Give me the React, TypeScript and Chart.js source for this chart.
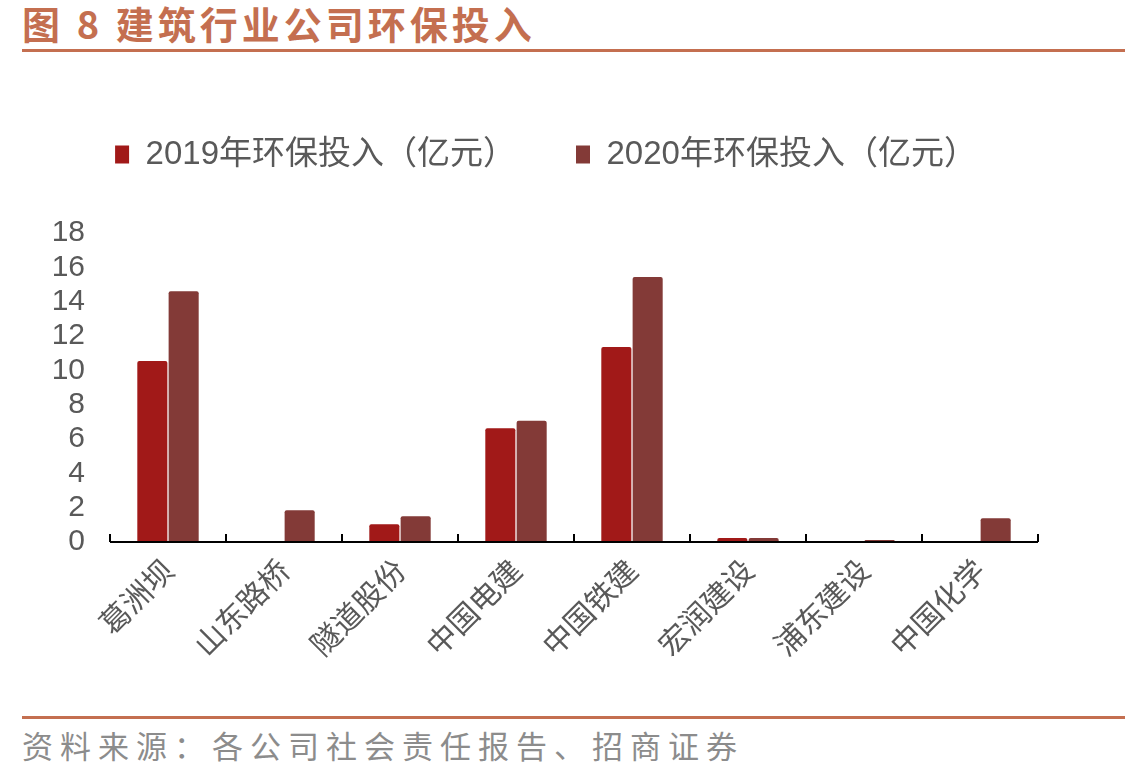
import { useEffect, useRef } from "react";
import { Chart, registerables } from "chart.js";

Chart.register(...registerables);

// Chart data
const companies = ["葛洲坝", "山东路桥", "隧道股份", "中国电建", "中国铁建", "宏润建设", "浦东建设", "中国化学"];
const invest2019 = [10.55, null, 1.03, 6.62, 11.36, 0.23, null, null];
const invest2020 = [14.6, 1.85, 1.5, 7.07, 15.43, 0.23, 0.12, 1.39];
const seriesNames = ["2019年环保投入（亿元）", "2020年环保投入（亿元）"];
const yTicks = { min: 0, max: 18, step: 2 };

const RED_2019 = "#a11918";
const BROWN_2020 = "#833a37";
const ACCENT = "#c46f50";

// small tick marks pointing up from the category axis, at category boundaries
const axisTicks = {
  id: "axisTicks",
  afterDatasetsDraw(chart: any) {
    const x = chart.scales.x;
    const ctx = chart.ctx;
    const n = chart.data.labels.length;
    const step = (x.right - x.left) / n;
    ctx.save();
    ctx.strokeStyle = "#000";
    ctx.lineWidth = 2;
    ctx.beginPath();
    ctx.moveTo(x.left, x.top);
    ctx.lineTo(x.right, x.top);
    for (let i = 0; i <= n; i++) {
      const px = Math.round(x.left + i * step);
      ctx.moveTo(px, x.top);
      ctx.lineTo(px, x.top - 8);
    }
    ctx.stroke();
    ctx.restore();
  },
};

// leave extra room between the legend and the plot
const legendGap = {
  id: "legendGap",
  beforeInit(chart: any) {
    const fit = chart.legend.fit;
    chart.legend.fit = function () {
      fit.call(this);
      this.height += 52;
    };
  },
};

function InvestChart() {
  const canvasRef = useRef<HTMLCanvasElement | null>(null);
  const chartRef = useRef<Chart | null>(null);

  useEffect(() => {
    if (!canvasRef.current) return;
    if (chartRef.current) chartRef.current.destroy();

    chartRef.current = new Chart(canvasRef.current, {
      type: "bar",
      data: {
        labels: companies,
        datasets: [
          {
            label: seriesNames[0],
            data: invest2019,
            backgroundColor: RED_2019,
            borderRadius: 2,
            categoryPercentage: 0.54,
            barPercentage: 0.96,
          },
          {
            label: seriesNames[1],
            data: invest2020,
            backgroundColor: BROWN_2020,
            borderRadius: 2,
            categoryPercentage: 0.54,
            barPercentage: 0.96,
          },
        ],
      },
      options: {
        responsive: false,
        animation: false,
        maintainAspectRatio: false,
        layout: { padding: { left: 54, right: 87, top: 18, bottom: 0 } },
        plugins: {
          tooltip: { enabled: false },
          legend: {
            position: "top",
            labels: {
              boxWidth: 14,
              boxHeight: 18,
              padding: 60,
              color: "#595959",
              font: { size: 33, family: "'Liberation Sans', 'Noto Sans CJK SC', sans-serif" },
            },
          },
        },
        scales: {
          x: {
            grid: { display: false, drawTicks: false },
            border: { display: false },
            ticks: {
              color: "#595959",
              maxRotation: 45,
              minRotation: 45,
              autoSkip: false,
              padding: 10,
              font: { size: 30, family: "'Noto Sans CJK SC', sans-serif" },
            },
            afterFit(scale: any) {
              scale.height = 168;
            },
          },
          y: {
            min: yTicks.min,
            max: yTicks.max,
            grid: { display: false, drawTicks: false },
            border: { display: false },
            ticks: {
              stepSize: yTicks.step,
              autoSkip: false,
              padding: 25,
              color: "#595959",
              font: { size: 30, family: "'Liberation Sans', Arial, sans-serif" },
            },
            afterFit(scale: any) {
              scale.width = 56;
            },
          },
        },
      },
      plugins: [axisTicks, legendGap],
    });

    return () => {
      if (chartRef.current) {
        chartRef.current.destroy();
        chartRef.current = null;
      }
    };
  }, []);

  return (
    <canvas
      ref={canvasRef}
      width={1125}
      height={650}
      style={{ position: "absolute", left: 0, top: 60, width: 1125, height: 650 }}
    />
  );
}

export default function App() {
  return (
    <div
      style={{
        position: "absolute",
        left: 0,
        top: 0,
        width: 1125,
        height: 778,
        background: "#fff",
        overflow: "hidden",
      }}
    >
      <div
        style={{
          position: "absolute",
          left: 22,
          top: 0,
          height: 46,
          lineHeight: "46px",
          fontSize: 38,
          fontWeight: "bold",
          letterSpacing: 4,
          color: ACCENT,
          fontFamily: "'Noto Sans CJK SC', sans-serif",
          whiteSpace: "nowrap",
        }}
      >
        图 8 建筑行业公司环保投入
      </div>
      <div style={{ position: "absolute", left: 22, top: 49, width: 1103, height: 3, background: ACCENT }} />
      <InvestChart />
      <div style={{ position: "absolute", left: 22, top: 716, width: 1103, height: 3, background: ACCENT }} />
      <div
        style={{
          position: "absolute",
          left: 22,
          top: 722,
          height: 46,
          lineHeight: "46px",
          fontSize: 31,
          letterSpacing: 7,
          color: "#8c8c8c",
          fontFamily: "'Noto Sans CJK SC', sans-serif",
          whiteSpace: "nowrap",
        }}
      >
        资料来源：各公司社会责任报告、招商证券
      </div>
    </div>
  );
}
